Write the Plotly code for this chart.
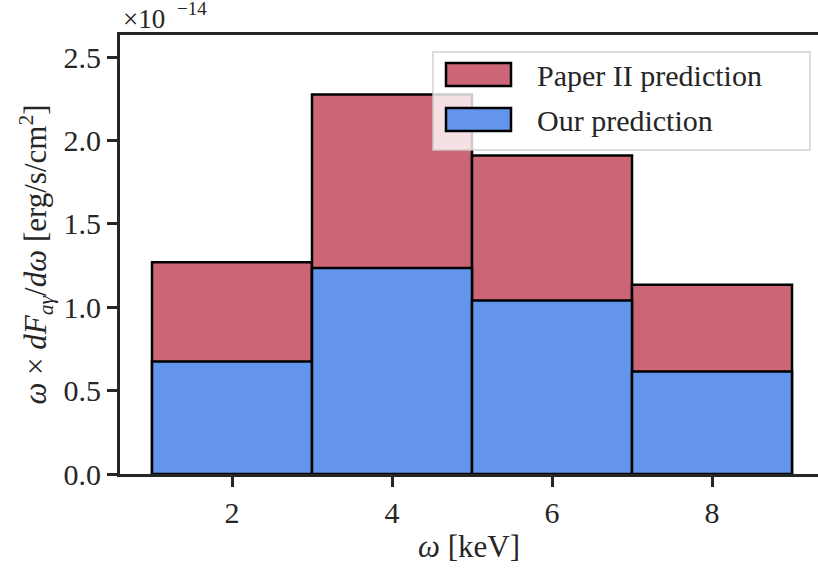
import plotly.graph_objects as go

# Energy bins (keV): centres and widths
bin_centres = [2, 4, 6, 8]
bin_width = [2, 2, 2, 2]

# Spectral flux omega * dF/domega, in units of 1e-14 erg/s/cm^2
paper2_flux = [1.27, 2.275, 1.91, 1.135]
our_flux = [0.675, 1.235, 1.04, 0.615]

series_names = ["Paper II prediction", "Our prediction"]
x_ticks = [2, 4, 6, 8]
y_ticks = [0.0, 0.5, 1.0, 1.5, 2.0, 2.5]

RED = "#CC6677"
BLUE = "#6495ED"
INK = "#262626"
FONT = "Liberation Serif"
FS = 30

W, H = 818, 574
L, R, T, B = 120, 0, 35, 100
PW, PH = W - L - R, H - T - B


def px(x):
    return (x - L) / PW


def py(y):
    return (H - B - y) / PH


def font(size=FS):
    return dict(family=FONT, size=size, color=INK)


fig = go.Figure()
for name, vals, col in zip(series_names, [paper2_flux, our_flux], [RED, BLUE]):
    fig.add_trace(go.Bar(
        x=bin_centres, y=vals, width=bin_width, name=name,
        marker=dict(color=col, line=dict(color="black", width=2.5)),
        showlegend=False,
    ))

fig.update_layout(
    width=W, height=H,
    margin=dict(l=L, r=R, t=T, b=B),
    barmode="overlay",
    plot_bgcolor="white", paper_bgcolor="white",
)
fig.update_xaxes(
    range=[0.6, 0.6 + PW / 80],
    tickvals=x_ticks, ticktext=[str(v) for v in x_ticks],
    mirror=True, showline=True, linecolor=INK, linewidth=3,
    ticks="outside", ticklen=10, tickwidth=3, tickcolor=INK,
    showgrid=False, zeroline=False, tickfont=font(),
    title_text="<i>ω</i> [keV]", title_standoff=8, title_font=font(31),
)
fig.update_yaxes(
    range=[0, PH / 166.8],
    tickvals=y_ticks, ticktext=[f"{v:.1f}" for v in y_ticks],
    showline=True, linecolor=INK, linewidth=3,
    ticks="outside", ticklen=10, tickwidth=3, tickcolor=INK,
    showgrid=False, zeroline=False, tickfont=font(),
    title_text="<i>ω</i> × <i>dF</i><sub><i>aγ</i></sub>/<i>dω</i> [erg/s/cm<sup>2</sup>]",
    title_standoff=8, title_font=font(31),
)

# Offset label for the y axis: mantissa and raised exponent
fig.add_annotation(
    text="×10", xref="paper", yref="paper",
    x=px(121), y=py(36), xanchor="left", yanchor="bottom",
    showarrow=False, font=font(27),
)
fig.add_annotation(
    text="−14", xref="paper", yref="paper",
    x=px(175), y=py(21), xanchor="left", yanchor="bottom",
    showarrow=False, font=font(19),
)

# Legend: translucent framed box with wide colour patches
fig.add_shape(
    type="rect", xref="paper", yref="paper",
    x0=px(433), x1=px(810), y0=py(150), y1=py(52),
    fillcolor="rgba(255,255,255,0.8)",
    line=dict(color="rgba(204,204,204,0.9)", width=1.5), layer="above",
)
for i, (name, col) in enumerate(zip(series_names, [RED, BLUE])):
    top = 63 + i * 45
    fig.add_shape(
        type="rect", xref="paper", yref="paper",
        x0=px(446), x1=px(511), y0=py(top + 23), y1=py(top),
        fillcolor=col, line=dict(color="black", width=2.5), layer="above",
    )
    fig.add_annotation(
        text=name, xref="paper", yref="paper",
        x=px(535), y=py(top + 12), xanchor="left", yanchor="middle",
        showarrow=False, font=font(),
    )

fig.write_html("out.html")
